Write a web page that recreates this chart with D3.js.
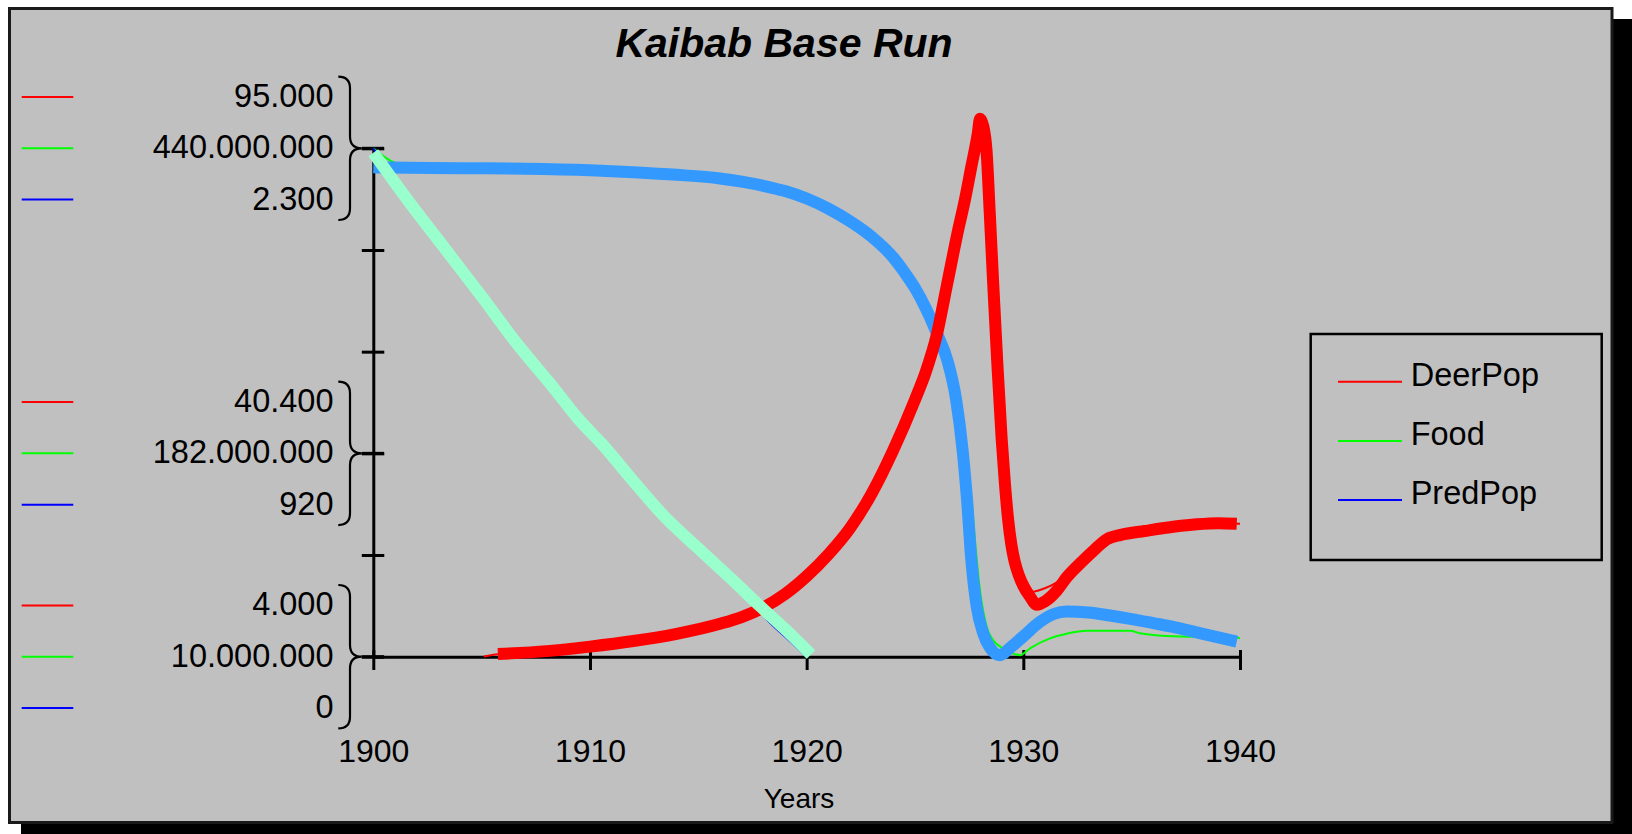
<!DOCTYPE html>
<html><head><meta charset="utf-8">
<script src="https://cdn.jsdelivr.net/npm/d3@7"></script>
<style>
html,body{margin:0;padding:0;background:#fff;}
svg{display:block;font-family:"Liberation Sans",Arial,Helvetica,sans-serif;}
</style>
</head><body>
<svg id="chart" width="1632" height="834"></svg>
<script>
// ---------------- DATA ----------------
const chartTitle = "Kaibab Base Run";
const xTitle = "Years";
const xTickYears = [1900, 1910, 1920, 1930, 1940];
const seriesNames = ["DeerPop", "Food", "PredPop"];
const seriesColors = ["#ff0000", "#00ff00", "#0000ff"];
// labelled scale values (bottom, middle, top) for each series
const deerTicks = [4000, 40400, 95000];
const foodTicks = [10000000, 182000000, 440000000];
const predTicks = [0, 920, 2300];

// thin lines: [year, value]
const deerPop = [[1905.1,4050],[1905.75,4450],[1908,5000],[1910,5800],[1912,6800],[1914,8100],[1916,9900],[1917,11100],[1918,12800],[1919,15200],[1920,18400],[1921,22300],[1922,27000],[1923,33200],[1924,41000],[1925,50000],[1925.5,55000],[1926,61500],[1926.5,71000],[1927,80500],[1927.3,85700],[1927.6,91700],[1927.9,97700],[1928,100300],[1928.15,99000],[1928.3,94700],[1928.45,83500],[1928.6,71500],[1928.8,56500],[1929,43000],[1929.15,35000],[1929.3,28500],[1929.45,23800],[1929.6,20500],[1929.8,17800],[1930.07,15700],[1930.4,15600],[1930.77,15950],[1931.54,17300],[1932,18700],[1932.7,21000],[1933.3,23200],[1933.85,25000],[1934.5,25800],[1935.6,26500],[1937,27300],[1938,27700],[1939,27900],[1940,27800]];
const food = [[1900,440e6],[1901.3,426.2e6],[1904,423.2e6],[1907,422.8e6],[1910,421.5e6],[1912,419.8e6],[1914,417.6e6],[1916,414.5e6],[1917,411.8e6],[1918,408.3e6],[1919,403.8e6],[1920,397.5e6],[1921,389e6],[1922,378.3e6],[1923,365.2e6],[1924,347.6e6],[1924.5,335.5e6],[1925,321.8e6],[1925.5,304.6e6],[1926,283.9e6],[1926.5,260.3e6],[1927,218.6e6],[1927.3,182e6],[1927.62,141.6e6],[1927.77,108.5e6],[1928,66.3e6],[1928.31,35.4e6],[1928.6,24.2e6],[1929.23,15.6e6],[1929.85,11.3e6],[1930.31,17.1e6],[1931.23,25.5e6],[1932,29.4e6],[1932.92,31.9e6],[1934.92,31.9e6],[1935.38,29.8e6],[1936.6,27.6e6],[1939.85,26.3e6],[1940,25.5e6]];
const predPop = [[1900,2300],[1901.65,2062],[1903.23,1868],[1904.5,1715],[1905,1645],[1906.6,1425],[1908.37,1210],[1909.42,1081],[1910.66,951],[1911.9,806],[1913.5,628],[1914.9,499],[1916.5,350],[1917.5,245],[1918.2,165],[1919.15,78],[1920,0]];

// thick overlay lines: [year, value]
const deerPopBold = [[1905.75,4480],[1908,5000],[1910,5800],[1912,6800],[1914,8100],[1916,9900],[1917,11100],[1918,12800],[1919,15200],[1920,18400],[1921,22300],[1922,27000],[1923,33200],[1924,41000],[1925,50000],[1925.5,55000],[1926,61500],[1926.5,71000],[1927,80500],[1927.3,85700],[1927.6,91700],[1927.9,97700],[1928,100300],[1928.15,99000],[1928.3,94700],[1928.45,83500],[1928.6,71500],[1928.8,56500],[1929,43000],[1929.15,35000],[1929.3,28500],[1929.45,24000],[1929.6,21000],[1929.8,18500],[1930,16700],[1930.3,14800],[1930.62,13300],[1931,13900],[1931.54,15800],[1932,18200],[1932.7,21000],[1933.3,23200],[1933.85,25000],[1934.5,25800],[1935.6,26500],[1937,27300],[1938,27700],[1939,27900],[1939.85,27800]];
const foodBold = [[1900,424e6],[1900.6,423.7e6],[1904,423.2e6],[1907,422.8e6],[1910,421.5e6],[1912,419.8e6],[1914,417.6e6],[1916,414.5e6],[1917,411.8e6],[1918,408.3e6],[1919,403.8e6],[1920,397.5e6],[1921,389e6],[1922,378.3e6],[1923,365.2e6],[1924,347.6e6],[1924.5,335.5e6],[1925,321.8e6],[1925.5,304.6e6],[1926,283.9e6],[1926.5,260.3e6],[1926.9,227.2e6],[1927.2,184.2e6],[1927.4,143.3e6],[1927.6,91.7e6],[1927.85,52.1e6],[1928.15,29.8e6],[1928.46,17.7e6],[1928.92,11.3e6],[1929.4,17.7e6],[1930,27.2e6],[1930.75,39.2e6],[1931.4,46.1e6],[1932,48.3e6],[1933,47.4e6],[1934,44.8e6],[1935,41.8e6],[1936,38.4e6],[1937,34.9e6],[1938,30.6e6],[1939,26.3e6],[1939.85,22.7e6]];
const predPopBold = [[1900,2280],[1901.65,2058],[1903.23,1856],[1905,1630],[1906.6,1420],[1908.37,1210],[1909.42,1081],[1910.66,951],[1911.9,806],[1913.5,628],[1914.9,499],[1916.5,354],[1917.9,224],[1919.15,111],[1920.2,10]];

// ---------------- LAYOUT ----------------
const svg = d3.select("#chart");
const X0 = 373.3, X1 = 1240, YB = 656.7, YT = 148.3;
const x = d3.scaleLinear().domain([1900, 1940]).range([X0, X1]);
const yDeer = d3.scaleLinear().domain([deerTicks[0], deerTicks[2]]).range([YB, YT]);
const yFood = d3.scaleLinear().domain([foodTicks[0], foodTicks[2]]).range([YB, YT]);
const yPred = d3.scaleLinear().domain([predTicks[0], predTicks[2]]).range([YB, YT]);
const fmtLocale = d3.formatLocale({decimal: ",", thousands: ".", grouping: [3], currency: ["", ""]});
const fmt = fmtLocale.format(",.0f");

// shadow + frame
svg.append("rect").attr("x", 21).attr("y", 19).attr("width", 1640).attr("height", 840).attr("fill", "#000");
svg.append("rect").attr("x", 9.5).attr("y", 8.5).attr("width", 1602.5).attr("height", 814)
  .attr("fill", "#c0c0c0").attr("stroke", "#1a1a1a").attr("stroke-width", 3);

// title
svg.append("text").attr("x", 784).attr("y", 57).attr("text-anchor", "middle")
  .attr("font-size", 41).attr("font-weight", "bold").attr("font-style", "italic").text(chartTitle);

// y axis
const yAxis = d3.axisLeft(yDeer)
  .tickValues(d3.range(6).map(i => deerTicks[0] + i * (deerTicks[2] - deerTicks[0]) / 5))
  .tickFormat("").tickSizeInner(11.5).tickSizeOuter(0);
const gy = svg.append("g").attr("transform", `translate(${X0},0)`).call(yAxis);
gy.selectAll(".tick line").attr("x1", 11).attr("stroke", "#000").attr("stroke-width", 3);
gy.select(".domain").attr("stroke", "#000").attr("stroke-width", 3);

// x axis
const xAxis = d3.axisBottom(x).tickValues(xTickYears).tickFormat(d3.format("d"))
  .tickSizeInner(13.3).tickSizeOuter(0);
const gx = svg.append("g").attr("transform", `translate(0,${YB})`).call(xAxis);
gx.select(".domain").attr("stroke", "#000").attr("stroke-width", 3);
gx.selectAll(".tick line").attr("y1", -6.7).attr("stroke", "#000").attr("stroke-width", 3);
gx.selectAll(".tick text").attr("y", 105).attr("dy", null).attr("font-size", 32)
  .attr("font-family", "'Liberation Sans',Arial,sans-serif").attr("fill", "#000");
svg.append("text").attr("x", 799).attr("y", 808).attr("text-anchor", "middle")
  .attr("font-size", 28).text(xTitle);

// left multi-scale labels with braces
const scaleTickSets = [deerTicks, foodTicks, predTicks];
[0, 1, 2].forEach(k => {
  const yc = yFood(foodTicks[k]);
  const g = svg.append("g");
  scaleTickSets.forEach((ticks, s) => {
    const ly = yc + (s - 1) * 51.3;
    g.append("line").attr("x1", 21.7).attr("x2", 73.3).attr("y1", ly).attr("y2", ly)
      .attr("stroke", seriesColors[s]).attr("stroke-width", 2);
    g.append("text").attr("x", 333.5).attr("y", ly + 10).attr("text-anchor", "end")
      .attr("font-size", 32.5).text(fmt(ticks[k]));
  });
  const p = d3.path();
  p.moveTo(338.3, yc - 71.7);
  p.quadraticCurveTo(350, yc - 71.7, 350, yc - 60);
  p.lineTo(350, yc - 12);
  p.quadraticCurveTo(350, yc, 361.7, yc);
  p.quadraticCurveTo(350, yc, 350, yc + 12);
  p.lineTo(350, yc + 60);
  p.quadraticCurveTo(350, yc + 71.7, 338.3, yc + 71.7);
  g.append("path").attr("d", p.toString()).attr("fill", "none").attr("stroke", "#000").attr("stroke-width", 2.2);
  g.append("line").attr("x1", 361.7).attr("x2", 384).attr("y1", yc).attr("y2", yc)
    .attr("stroke", "#000").attr("stroke-width", 3);
});

// lines
const mkLine = ys => d3.line().x(d => x(d[0])).y(d => ys(d[1])).curve(d3.curveMonotoneX);
const thin = [[deerPop, yDeer, seriesColors[0]], [food, yFood, seriesColors[1]], [predPop, yPred, seriesColors[2]]];
thin.forEach(([data, ys, c]) => {
  svg.append("path").datum(data).attr("d", mkLine(ys)).attr("fill", "none")
    .attr("stroke", c).attr("stroke-width", 2).attr("stroke-linejoin", "round");
});
const bold = [[foodBold, yFood, "#3399ff"], [deerPopBold, yDeer, "#ff0000"], [predPopBold, yPred, "#99ffcc"]];
bold.forEach(([data, ys, c]) => {
  svg.append("path").datum(data).attr("d", mkLine(ys)).attr("fill", "none")
    .attr("stroke", c).attr("stroke-width", 12).attr("stroke-linejoin", "round").attr("stroke-linecap", "butt");
});

// legend
svg.append("rect").attr("x", 1310.7).attr("y", 334).attr("width", 291).attr("height", 226)
  .attr("fill", "none").attr("stroke", "#000").attr("stroke-width", 2.5);
seriesNames.forEach((n, i) => {
  const ly = 381.7 + i * 59.2;
  svg.append("line").attr("x1", 1338).attr("x2", 1402).attr("y1", ly).attr("y2", ly)
    .attr("stroke", seriesColors[i]).attr("stroke-width", 2);
  svg.append("text").attr("x", 1410.7).attr("y", ly + 4).attr("font-size", 32.5).text(n);
});
</script>
</body></html>
